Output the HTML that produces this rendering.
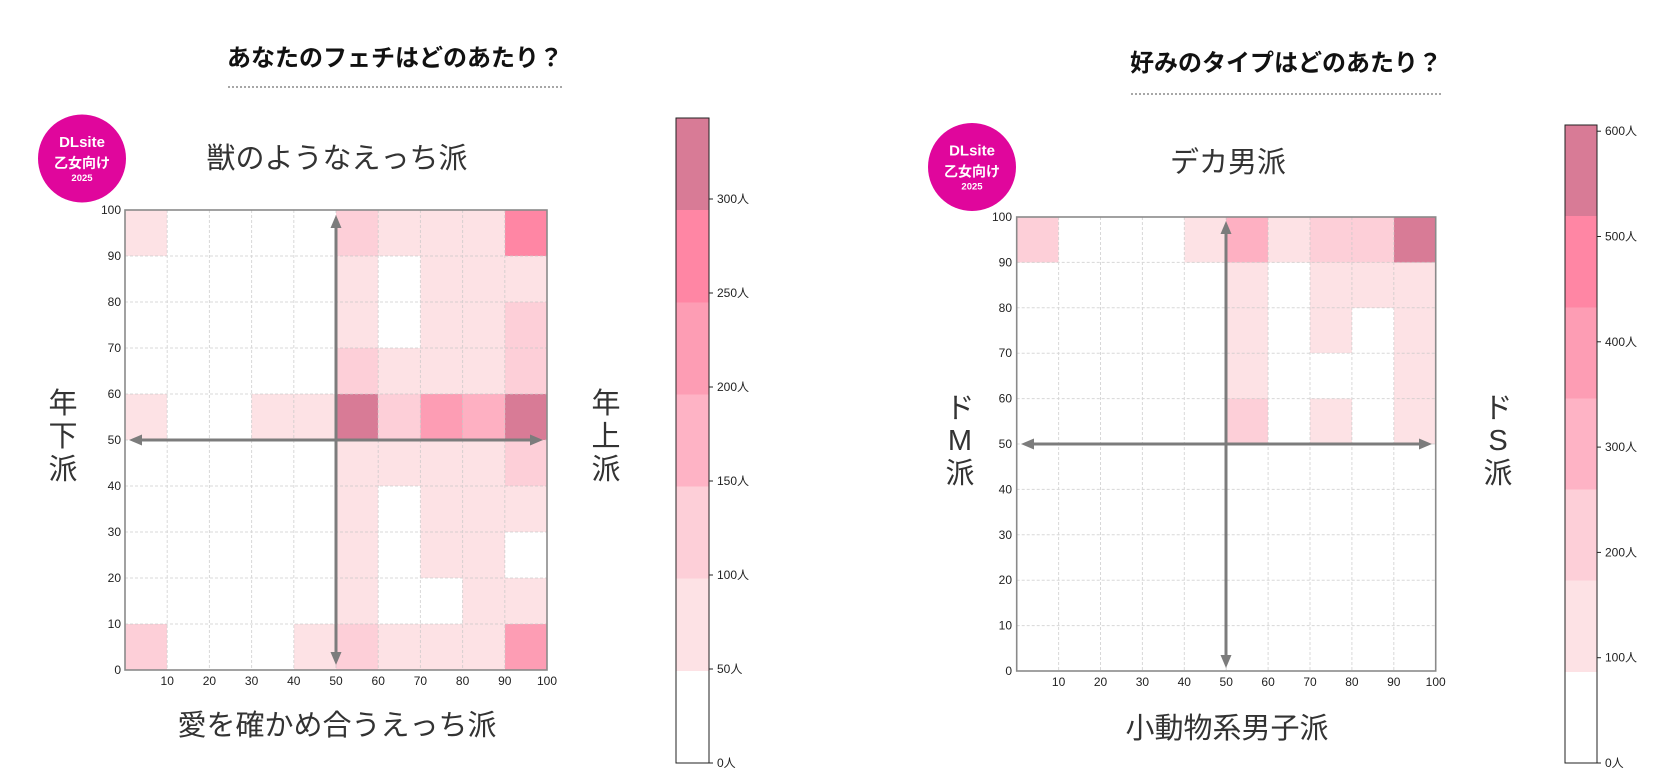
<!DOCTYPE html>
<html><head><meta charset="utf-8">
<style>
html,body{margin:0;padding:0;background:#fff;}
svg{display:block;}
.t{font-family:"Liberation Sans","Noto Sans CJK JP",sans-serif;}
</style></head>
<body>
<svg width="1679" height="779" viewBox="0 0 1679 779" xmlns="http://www.w3.org/2000/svg">
<rect width="1679" height="779" fill="#fff"/>

<!-- ============ LEFT ============ -->
<text class="t" x="395" y="66" font-size="24" font-weight="bold" text-anchor="middle" fill="#111">あなたのフェチはどのあたり？</text>
<line x1="228" y1="87" x2="562" y2="87" stroke="#8a8a8a" stroke-width="1.5" stroke-dasharray="2,2"/>

<circle cx="82" cy="158.5" r="44" fill="#e0069c"/>
<text class="t" x="82" y="147" font-size="15" font-weight="bold" text-anchor="middle" fill="#fff">DLsite</text>
<text class="t" x="82" y="168" font-size="14" font-weight="bold" text-anchor="middle" fill="#fff">乙女向け</text>
<text class="t" x="82" y="181" font-size="9.5" font-weight="bold" text-anchor="middle" fill="#fff">2025</text>

<text class="t" x="337" y="168" font-size="29" text-anchor="middle" fill="#333">獣のようなえっち派</text>
<text class="t" x="337" y="735" font-size="29" text-anchor="middle" fill="#333">愛を確かめ合うえっち派</text>

<g class="t" font-size="29" fill="#333" text-anchor="middle">
<text x="63" y="413">年</text><text x="63" y="446">下</text><text x="63" y="479">派</text>
<text x="606" y="413">年</text><text x="606" y="446">上</text><text x="606" y="479">派</text>
</g>

<!-- cells -->
<g transform="translate(125,210) scale(42.2,46)" shape-rendering="crispEdges">
<rect x="0" y="0" width="1" height="1" fill="#fde2e5"/>
<rect x="5" y="0" width="1" height="1" fill="#fdcfd8"/>
<rect x="6" y="0" width="3" height="1" fill="#fde2e5"/>
<rect x="9" y="0" width="1" height="1" fill="#ff86a4"/>

<rect x="5" y="1" width="1" height="2" fill="#fde2e5"/>
<rect x="7" y="1" width="3" height="1" fill="#fde2e5"/>
<rect x="7" y="2" width="2" height="1" fill="#fde2e5"/>
<rect x="9" y="2" width="1" height="1" fill="#fdcfd8"/>

<rect x="5" y="3" width="1" height="1" fill="#fdcfd8"/>
<rect x="6" y="3" width="3" height="1" fill="#fde2e5"/>
<rect x="9" y="3" width="1" height="1" fill="#fdcfd8"/>

<rect x="0" y="4" width="1" height="1" fill="#fde2e5"/>
<rect x="3" y="4" width="2" height="1" fill="#fde2e5"/>
<rect x="5" y="4" width="1" height="1" fill="#d87b96"/>
<rect x="6" y="4" width="1" height="1" fill="#fdcfd8"/>
<rect x="7" y="4" width="1" height="1" fill="#fd9db4"/>
<rect x="8" y="4" width="1" height="1" fill="#feb0c2"/>
<rect x="9" y="4" width="1" height="1" fill="#d87b96"/>

<rect x="5" y="5" width="4" height="1" fill="#fde2e5"/>
<rect x="9" y="5" width="1" height="1" fill="#fdcfd8"/>

<rect x="5" y="6" width="1" height="4" fill="#fde2e5"/>
<rect x="7" y="6" width="3" height="1" fill="#fde2e5"/>
<rect x="7" y="7" width="2" height="1" fill="#fde2e5"/>
<rect x="8" y="8" width="2" height="1" fill="#fde2e5"/>

<rect x="0" y="9" width="1" height="1" fill="#fdcfd8"/>
<rect x="4" y="9" width="1" height="1" fill="#fde2e5"/>
<rect x="5" y="9" width="1" height="1" fill="#fdcfd8"/>
<rect x="6" y="9" width="3" height="1" fill="#fde2e5"/>
<rect x="9" y="9" width="1" height="1" fill="#fd9db4"/>
</g>

<!-- grid -->
<g stroke="#c8c8c8" stroke-width="1" stroke-dasharray="3,2" opacity="0.7">
<line x1="167.2" y1="210" x2="167.2" y2="670"/><line x1="209.4" y1="210" x2="209.4" y2="670"/>
<line x1="251.6" y1="210" x2="251.6" y2="670"/><line x1="293.8" y1="210" x2="293.8" y2="670"/>
<line x1="336" y1="210" x2="336" y2="670"/><line x1="378.2" y1="210" x2="378.2" y2="670"/>
<line x1="420.4" y1="210" x2="420.4" y2="670"/><line x1="462.6" y1="210" x2="462.6" y2="670"/>
<line x1="504.8" y1="210" x2="504.8" y2="670"/>
<line x1="125" y1="256" x2="547" y2="256"/><line x1="125" y1="302" x2="547" y2="302"/>
<line x1="125" y1="348" x2="547" y2="348"/><line x1="125" y1="394" x2="547" y2="394"/>
<line x1="125" y1="440" x2="547" y2="440"/><line x1="125" y1="486" x2="547" y2="486"/>
<line x1="125" y1="532" x2="547" y2="532"/><line x1="125" y1="578" x2="547" y2="578"/>
<line x1="125" y1="624" x2="547" y2="624"/>
</g>
<rect x="125" y="210" width="422" height="460" fill="none" stroke="#8a8a8a" stroke-width="1.6"/>

<!-- arrows -->
<g stroke="#7c7c7c" stroke-width="3">
<line x1="139" y1="440" x2="533" y2="440"/>
<line x1="336" y1="225" x2="336" y2="655"/>
</g>
<g fill="#7c7c7c">
<polygon points="129,440 142,434.5 142,445.5"/>
<polygon points="543,440 530,434.5 530,445.5"/>
<polygon points="336,215 330.5,228 341.5,228"/>
<polygon points="336,665 330.5,652 341.5,652"/>
</g>

<!-- tick labels -->
<g class="t" font-size="12" fill="#222" text-anchor="end">
<text x="121" y="214">100</text><text x="121" y="260">90</text><text x="121" y="306">80</text>
<text x="121" y="352">70</text><text x="121" y="398">60</text><text x="121" y="444">50</text>
<text x="121" y="490">40</text><text x="121" y="536">30</text><text x="121" y="582">20</text>
<text x="121" y="628">10</text><text x="121" y="674">0</text>
</g>
<g class="t" font-size="12" fill="#222" text-anchor="middle">
<text x="167.2" y="685">10</text><text x="209.4" y="685">20</text><text x="251.6" y="685">30</text>
<text x="293.8" y="685">40</text><text x="336" y="685">50</text><text x="378.2" y="685">60</text>
<text x="420.4" y="685">70</text><text x="462.6" y="685">80</text><text x="504.8" y="685">90</text>
<text x="547" y="685">100</text>
</g>

<!-- colorbar left -->
<g shape-rendering="crispEdges">
<rect x="676" y="118" width="33" height="92.1" fill="#d87b96"/>
<rect x="676" y="210.1" width="33" height="92.2" fill="#ff86a4"/>
<rect x="676" y="302.3" width="33" height="92.1" fill="#fd9db4"/>
<rect x="676" y="394.4" width="33" height="92.2" fill="#feb3c5"/>
<rect x="676" y="486.6" width="33" height="92.1" fill="#fdcfd8"/>
<rect x="676" y="578.7" width="33" height="92.2" fill="#fde2e5"/>
</g>
<rect x="676" y="118" width="33" height="645" fill="none" stroke="#222" stroke-width="1"/>
<g stroke="#222" stroke-width="1">
<line x1="709" y1="763" x2="713" y2="763"/><line x1="709" y1="669" x2="713" y2="669"/>
<line x1="709" y1="575" x2="713" y2="575"/><line x1="709" y1="481" x2="713" y2="481"/>
<line x1="709" y1="387" x2="713" y2="387"/><line x1="709" y1="293" x2="713" y2="293"/>
<line x1="709" y1="199" x2="713" y2="199"/>
</g>
<g class="t" font-size="12" fill="#222">
<text x="717" y="767">0人</text><text x="717" y="673">50人</text><text x="717" y="579">100人</text>
<text x="717" y="485">150人</text><text x="717" y="391">200人</text><text x="717" y="297">250人</text>
<text x="717" y="203">300人</text>
</g>

<!-- ============ RIGHT ============ -->
<text class="t" x="1286" y="71" font-size="24" font-weight="bold" text-anchor="middle" fill="#111">好みのタイプはどのあたり？</text>
<line x1="1131" y1="94" x2="1443" y2="94" stroke="#8a8a8a" stroke-width="1.5" stroke-dasharray="2,2"/>

<circle cx="972" cy="167" r="44" fill="#e0069c"/>
<text class="t" x="972" y="155.5" font-size="15" font-weight="bold" text-anchor="middle" fill="#fff">DLsite</text>
<text class="t" x="972" y="176.5" font-size="14" font-weight="bold" text-anchor="middle" fill="#fff">乙女向け</text>
<text class="t" x="972" y="189.5" font-size="9.5" font-weight="bold" text-anchor="middle" fill="#fff">2025</text>

<text class="t" x="1228" y="172" font-size="29" text-anchor="middle" fill="#333">デカ男派</text>
<text class="t" x="1227" y="738" font-size="29" text-anchor="middle" fill="#333">小動物系男子派</text>

<g class="t" font-size="29" fill="#333" text-anchor="middle">
<text x="960" y="418">ド</text><text x="960" y="450">M</text><text x="960" y="483">派</text>
<text x="1498" y="418">ド</text><text x="1498" y="450">S</text><text x="1498" y="483">派</text>
</g>

<g transform="translate(1016.7,217) scale(41.9,45.4)" shape-rendering="crispEdges">
<rect x="0" y="0" width="1" height="1" fill="#fdcfd8"/>
<rect x="4" y="0" width="1" height="1" fill="#fde2e5"/>
<rect x="5" y="0" width="1" height="1" fill="#feb0c2"/>
<rect x="6" y="0" width="1" height="1" fill="#fde2e5"/>
<rect x="7" y="0" width="2" height="1" fill="#fdcfd8"/>
<rect x="9" y="0" width="1" height="1" fill="#d87b96"/>

<rect x="5" y="1" width="1" height="3" fill="#fde2e5"/>
<rect x="7" y="1" width="3" height="1" fill="#fde2e5"/>
<rect x="7" y="2" width="1" height="1" fill="#fde2e5"/>
<rect x="9" y="2" width="1" height="3" fill="#fde2e5"/>
<rect x="5" y="4" width="1" height="1" fill="#fdcfd8"/>
<rect x="7" y="4" width="1" height="1" fill="#fde2e5"/>
</g>

<g stroke="#c8c8c8" stroke-width="1" stroke-dasharray="3,2" opacity="0.7">
<line x1="1058.6" y1="217" x2="1058.6" y2="671"/><line x1="1100.5" y1="217" x2="1100.5" y2="671"/>
<line x1="1142.4" y1="217" x2="1142.4" y2="671"/><line x1="1184.3" y1="217" x2="1184.3" y2="671"/>
<line x1="1226.2" y1="217" x2="1226.2" y2="671"/><line x1="1268.1" y1="217" x2="1268.1" y2="671"/>
<line x1="1310" y1="217" x2="1310" y2="671"/><line x1="1351.9" y1="217" x2="1351.9" y2="671"/>
<line x1="1393.8" y1="217" x2="1393.8" y2="671"/>
<line x1="1016.7" y1="262.4" x2="1435.7" y2="262.4"/><line x1="1016.7" y1="307.8" x2="1435.7" y2="307.8"/>
<line x1="1016.7" y1="353.2" x2="1435.7" y2="353.2"/><line x1="1016.7" y1="398.6" x2="1435.7" y2="398.6"/>
<line x1="1016.7" y1="444" x2="1435.7" y2="444"/><line x1="1016.7" y1="489.4" x2="1435.7" y2="489.4"/>
<line x1="1016.7" y1="534.8" x2="1435.7" y2="534.8"/><line x1="1016.7" y1="580.2" x2="1435.7" y2="580.2"/>
<line x1="1016.7" y1="625.6" x2="1435.7" y2="625.6"/>
</g>
<rect x="1016.7" y="217" width="419" height="454" fill="none" stroke="#8a8a8a" stroke-width="1.6"/>

<g stroke="#7c7c7c" stroke-width="3">
<line x1="1031" y1="444" x2="1422" y2="444"/>
<line x1="1226" y1="231" x2="1226" y2="658"/>
</g>
<g fill="#7c7c7c">
<polygon points="1021,444 1034,438.5 1034,449.5"/>
<polygon points="1432,444 1419,438.5 1419,449.5"/>
<polygon points="1226,221 1220.5,234 1231.5,234"/>
<polygon points="1226,668 1220.5,655 1231.5,655"/>
</g>

<g class="t" font-size="12" fill="#222" text-anchor="end">
<text x="1012" y="221">100</text><text x="1012" y="266.4">90</text><text x="1012" y="311.8">80</text>
<text x="1012" y="357.2">70</text><text x="1012" y="402.6">60</text><text x="1012" y="448">50</text>
<text x="1012" y="493.4">40</text><text x="1012" y="538.8">30</text><text x="1012" y="584.2">20</text>
<text x="1012" y="629.6">10</text><text x="1012" y="675">0</text>
</g>
<g class="t" font-size="12" fill="#222" text-anchor="middle">
<text x="1058.6" y="686">10</text><text x="1100.5" y="686">20</text><text x="1142.4" y="686">30</text>
<text x="1184.3" y="686">40</text><text x="1226.2" y="686">50</text><text x="1268.1" y="686">60</text>
<text x="1310" y="686">70</text><text x="1351.9" y="686">80</text><text x="1393.8" y="686">90</text>
<text x="1435.7" y="686">100</text>
</g>

<!-- colorbar right -->
<g shape-rendering="crispEdges">
<rect x="1565" y="125" width="32" height="91.1" fill="#d87b96"/>
<rect x="1565" y="216.1" width="32" height="91.2" fill="#ff86a4"/>
<rect x="1565" y="307.3" width="32" height="91.1" fill="#fd9db4"/>
<rect x="1565" y="398.4" width="32" height="91.2" fill="#feb3c5"/>
<rect x="1565" y="489.6" width="32" height="91.1" fill="#fdcfd8"/>
<rect x="1565" y="580.7" width="32" height="91.2" fill="#fde2e5"/>
</g>
<rect x="1565" y="125" width="32" height="638" fill="none" stroke="#222" stroke-width="1"/>
<g stroke="#222" stroke-width="1">
<line x1="1597" y1="763" x2="1601" y2="763"/><line x1="1597" y1="657.7" x2="1601" y2="657.7"/>
<line x1="1597" y1="552.4" x2="1601" y2="552.4"/><line x1="1597" y1="447.1" x2="1601" y2="447.1"/>
<line x1="1597" y1="341.8" x2="1601" y2="341.8"/><line x1="1597" y1="236.5" x2="1601" y2="236.5"/>
<line x1="1597" y1="131.2" x2="1601" y2="131.2"/>
</g>
<g class="t" font-size="12" fill="#222">
<text x="1605" y="767">0人</text><text x="1605" y="661.7">100人</text><text x="1605" y="556.4">200人</text>
<text x="1605" y="451.1">300人</text><text x="1605" y="345.8">400人</text><text x="1605" y="240.5">500人</text>
<text x="1605" y="135.2">600人</text>
</g>
</svg>
</body></html>
